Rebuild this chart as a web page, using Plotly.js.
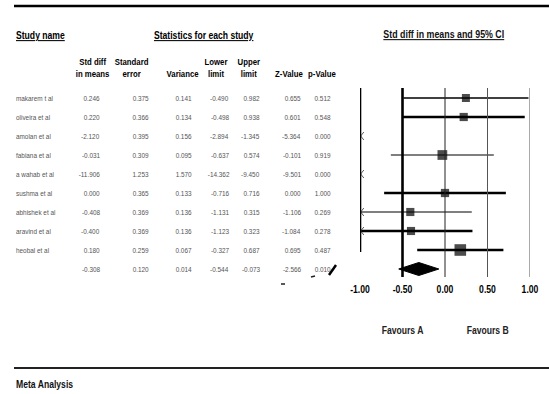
<!DOCTYPE html>
<html><head><meta charset="utf-8">
<script src="https://cdn.plot.ly/plotly-3.0.1.min.js"></script>
<style>html,body{margin:0;padding:0;background:#fff}</style>
</head><body><div id="chart" style="width:549px;height:394px"></div>
<script>
// ---- data ----
const studies = ["makarem t al","oliveira et al","amolan et al","fabiana et al","a wahab et al","sushma et al","abhishek et al","aravind et al","heobal et al"];
const stdDiff  = [0.246, 0.220, -2.120, -0.031, -11.906, 0.000, -0.408, -0.400, 0.180];
const stdErr   = [0.375, 0.366, 0.395, 0.309, 1.253, 0.365, 0.369, 0.369, 0.259];
const variance = [0.141, 0.134, 0.156, 0.095, 1.570, 0.133, 0.136, 0.136, 0.067];
const lowerLim = [-0.490, -0.498, -2.894, -0.637, -14.362, -0.716, -1.131, -1.123, -0.327];
const upperLim = [0.982, 0.938, -1.345, 0.574, -9.450, 0.716, 0.315, 0.323, 0.687];
const zValue   = [0.655, 0.601, -5.364, -0.101, -9.501, 0.000, -1.106, -1.084, 0.695];
const pValue   = [0.512, 0.548, 0.000, 0.919, 0.000, 1.000, 0.269, 0.278, 0.487];
const summaryRow = [-0.308, 0.120, 0.014, -0.544, -0.073, -2.566, 0.010];
const xTicks = [-1, -0.5, 0, 0.5, 1];
const xTickText = ["-1.00", "-0.50", "0.00", "0.50", "1.00"];
const colHeaders = ["Std diff<br>in means", "Standard<br>error", "Variance", "Lower<br>limit", "Upper<br>limit", "Z-Value", "p-Value"];

// ---- styles / layout helpers ----
const W = 549, H = 394;
const row0 = 98, rowStep = 19;
const rowY = i => row0 + rowStep * i;
const colRight = [102, 151, 194, 231, 262, 303, 333];
const colHeadCenter = [92, 131, 182, 216, 249, 289, 322];
const ciWidth = [1.3, 2.6, 1, 1.2, 1, 2.6, 1.2, 2.6, 2.6];
const fam = "'Liberation Sans', Arial, sans-serif";
const squeeze = 0.82;           // emulate a narrow face
const textCol = "#555";
const px = v => v / W;

const xmin = xTicks[0], xmax = xTicks[xTicks.length - 1];
const traces = [];
const annotations = [];
const shapes = [];

// CI lines
studies.forEach((s, i) => {
  traces.push({
    type: "scatter", mode: "lines", x: [lowerLim[i], upperLim[i]], y: [rowY(i), rowY(i)],
    line: {color: "#000", width: ciWidth[i]}, hoverinfo: "skip", showlegend: false
  });
});
// off-scale arrows
const ax = [], ay = [];
studies.forEach((s, i) => {
  if (lowerLim[i] < xmin) {
    ax.push(xmin + 0.045, xmin + 0.008, xmin + 0.045, null);
    ay.push(rowY(i) - 4, rowY(i), rowY(i) + 4, null);
  }
});
traces.push({type: "scatter", mode: "lines", x: ax, y: ay, line: {color: "#333", width: 0.8}, hoverinfo: "skip", showlegend: false});
// boxes
traces.push({
  type: "scatter", mode: "markers", x: stdDiff, y: studies.map((s, i) => rowY(i)),
  marker: {symbol: "square", color: "#000", size: variance.map(v => 3 / Math.sqrt(v)), line: {width: 0}},
  hoverinfo: "skip", showlegend: false
});
// summary diamond
const sr = rowY(studies.length), dh = 6.5;
traces.push({
  type: "scatter", mode: "lines", fill: "toself", fillcolor: "#000",
  x: [summaryRow[3], summaryRow[0], summaryRow[4], summaryRow[0], summaryRow[3]],
  y: [sr, sr - dh, sr, sr + dh, sr], line: {color: "#000", width: 1},
  hoverinfo: "skip", showlegend: false
});

// reference lines
const vStyle = [
  {w: 2.6, c: "#000", y1: rowY(8) + 2},
  {w: 2.6, c: "#000", y1: sr + 8},
  {w: 1, c: "#222", y1: sr + 8},
  {w: 1, c: "#555", y1: sr + 8},
  {w: 1, c: "#555", y1: sr + 8}
];
xTicks.forEach((t, k) => {
  shapes.push({type: "line", xref: "x", yref: "y", x0: t, x1: t, y0: row0 - 10, y1: vStyle[k].y1,
    line: {color: vStyle[k].c, width: vStyle[k].w}});
});
// frame lines
shapes.push({type: "line", xref: "paper", yref: "y", x0: px(14), x1: 1, y0: 6, y1: 6, line: {color: "#000", width: 2.6}});
shapes.push({type: "line", xref: "paper", yref: "y", x0: px(14), x1: 1, y0: 368, y1: 368, line: {color: "#222", width: 2}});
// scan artifacts
shapes.push({type: "line", xref: "paper", yref: "y", x0: px(329), x1: px(336), y0: 275, y1: 265, line: {color: "#000", width: 2.5}});
shapes.push({type: "line", xref: "paper", yref: "y", x0: px(311), x1: px(315), y0: 277, y1: 276, line: {color: "#222", width: 1.5}});
shapes.push({type: "line", xref: "paper", yref: "y", x0: px(281), x1: px(285), y0: 284, y1: 284, line: {color: "#222", width: 1.5}});

// headers
const hb = {family: fam, size: 10.5, color: "#000", weight: 700, lineposition: "under"};
annotations.push({xref: "paper", yref: "y", x: px(14), y: 35, xanchor: "left", yanchor: "middle", text: "Study name", showarrow: false, font: hb});
annotations.push({xref: "paper", yref: "y", x: px(204), y: 35, xanchor: "center", yanchor: "middle", text: "Statistics for each study", showarrow: false, font: hb});
annotations.push({xref: "paper", yref: "y", x: px(444), y: 34, xanchor: "center", yanchor: "middle", text: "Std diff in means and 95% CI", showarrow: false,
  font: {family: fam, size: 10.8, color: "#111", weight: 700, lineposition: "under"}});
colHeaders.forEach((h, k) => {
  annotations.push({xref: "paper", yref: "y", x: px(colHeadCenter[k]), y: h.includes("<br>") ? 67 : 73, xanchor: "center", yanchor: "middle",
    text: h, align: "center", showarrow: false, font: {family: fam, size: 9.5, color: "#000", weight: 700}});
});
// table values
const tf = {family: fam, size: 7.8, color: textCol};
const fmt = v => v.toFixed(3);
studies.forEach((s, i) => {
  annotations.push({xref: "paper", yref: "y", x: px(14), y: rowY(i), xanchor: "left", yanchor: "middle", text: s, showarrow: false, font: tf});
  [stdDiff[i], stdErr[i], variance[i], lowerLim[i], upperLim[i], zValue[i], pValue[i]].forEach((v, k) => {
    annotations.push({xref: "paper", yref: "y", x: px(colRight[k]), y: rowY(i), xanchor: "right", yanchor: "middle", text: fmt(v), showarrow: false, font: tf});
  });
});
summaryRow.forEach((v, k) => {
  annotations.push({xref: "paper", yref: "y", x: px(colRight[k]), y: sr, xanchor: "right", yanchor: "middle", text: fmt(v), showarrow: false, font: tf});
});
// favours
const ff = {family: fam, size: 10.5, color: "#222", weight: 700};
annotations.push({xref: "x", yref: "y", x: -0.5, y: 330, xanchor: "center", yanchor: "middle", text: "Favours A", showarrow: false, font: ff});
annotations.push({xref: "x", yref: "y", x: 0.5, y: 330, xanchor: "center", yanchor: "middle", text: "Favours B", showarrow: false, font: ff});
// footer
annotations.push({xref: "paper", yref: "y", x: px(14), y: 384, xanchor: "left", yanchor: "middle", text: "Meta Analysis", showarrow: false,
  font: {family: fam, size: 10.5, color: "#111", weight: 700}});

const layout = {
  width: W, height: H, margin: {l: 0, r: 0, t: 0, b: 0}, paper_bgcolor: "#fff", plot_bgcolor: "rgba(0,0,0,0)",
  showlegend: false,
  xaxis: {domain: [360 / W, 530 / W], range: [xmin, xmax], anchor: "free", position: 1 - 282 / H,
    tickvals: xTicks, ticktext: xTickText, ticks: "", showline: false, showgrid: false, zeroline: false,
    tickfont: {family: fam, size: 10.5, color: "#000", weight: 700}},
  yaxis: {domain: [0, 1], range: [H, 0], visible: false, showgrid: false, zeroline: false},
  shapes: shapes, annotations: annotations
};
const gd = document.getElementById("chart");
Plotly.newPlot(gd, traces, layout, {staticPlot: true, displayModeBar: false}).then(() => {
  // narrow the text horizontally around its anchor point
  gd.querySelectorAll("g.annotation").forEach(g => {
    const idx = +g.getAttribute("data-index");
    const a = annotations[idx];
    const t = g.querySelector("text.annotation-text");
    if (!a || !t) return;
    const bb = t.getBBox();
    const anc = a.xanchor === "left" ? bb.x : a.xanchor === "right" ? bb.x + bb.width : bb.x + bb.width / 2;
    const prev = t.getAttribute("transform") || "";
    t.setAttribute("transform", `translate(${anc},0) scale(${squeeze},1) translate(${-anc},0) ${prev}`);
  });
  gd.querySelectorAll(".xtick text").forEach(t => {
    const prev = t.getAttribute("transform") || "";
    t.setAttribute("transform", `${prev} scale(${squeeze},1)`);
  });
});
</script></body></html>
